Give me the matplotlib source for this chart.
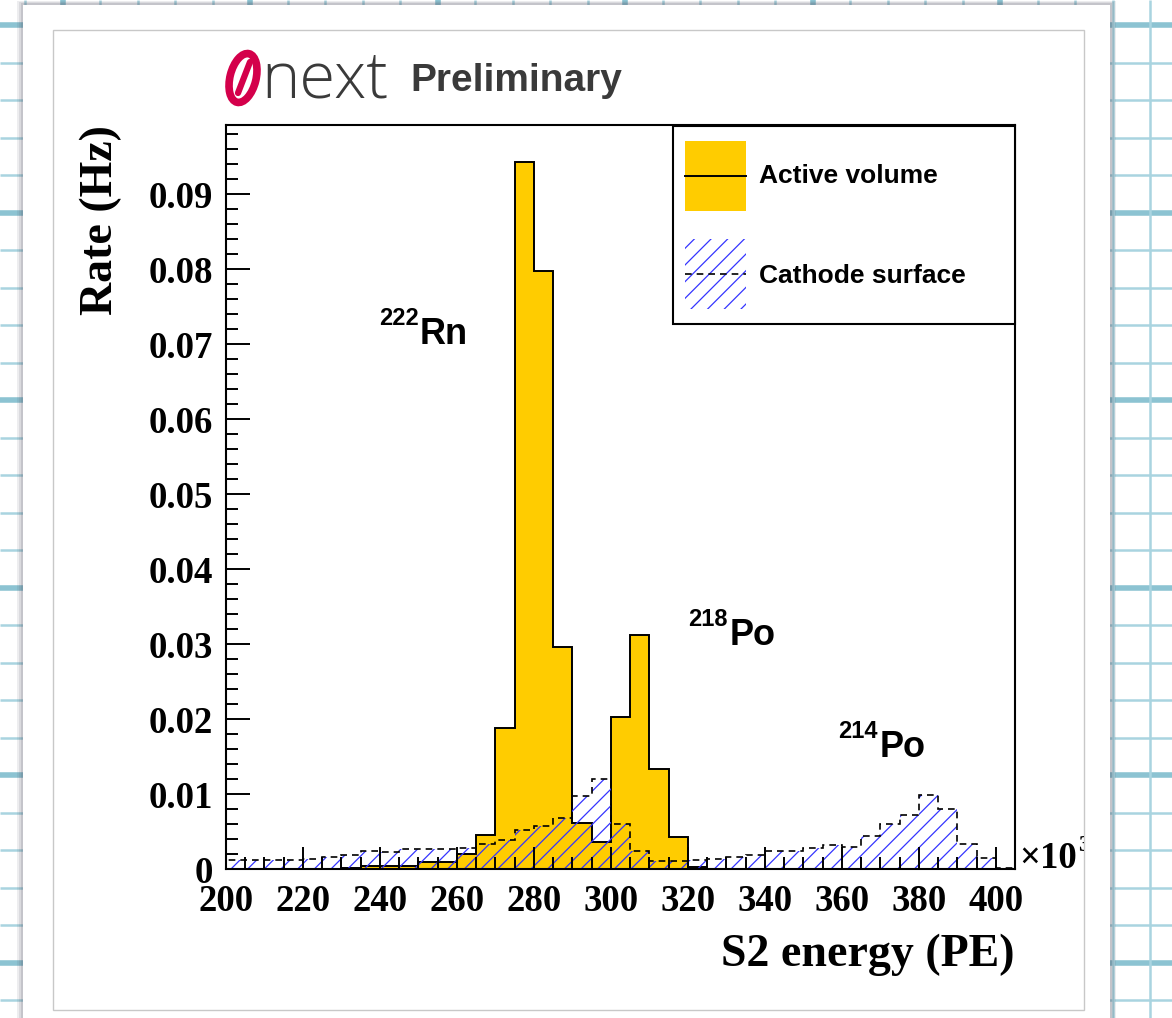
import numpy as np
import matplotlib
matplotlib.use('Agg')
import matplotlib.pyplot as plt
from matplotlib.patches import Rectangle, Ellipse
from matplotlib.ticker import FixedLocator, MultipleLocator, FuncFormatter
from matplotlib.transforms import Bbox, TransformedBbox

plt.rcParams['hatch.linewidth'] = 0.9
plt.rcParams['font.family'] = ['Liberation Serif', 'DejaVu Serif']
plt.rcParams['font.weight'] = 'bold'

# ---------------- data (S2 energy in units of 10^3 PE) ----------------
bin_edges = np.arange(200, 406, 5)
active_volume = [0.0001, 0.0001, 0.0001, 0.0001, 0.0001, 0.0001, 0.0002, 0.0004,
                 0.0004, 0.0005, 0.0010, 0.0010, 0.0021, 0.0046, 0.0188, 0.0943,
                 0.0797, 0.0296, 0.0062, 0.0037, 0.0203, 0.0312, 0.0134, 0.0043,
                 0.0003, 0.0, 0.0, 0.0, 0.0, 0.0, 0.0, 0.0,
                 0.0, 0.0, 0.0, 0.0, 0.0, 0.0, 0.0, 0.0, 0.0]
cathode_surface = [0.0013, 0.0013, 0.0013, 0.0013, 0.0014, 0.0016, 0.0019, 0.0024,
                   0.0023, 0.0027, 0.0027, 0.0027, 0.0029, 0.0034, 0.0039, 0.0052,
                   0.0058, 0.0069, 0.0098, 0.0121, 0.0060, 0.0025, 0.0011, 0.0011,
                   0.0012, 0.0014, 0.0016, 0.0019, 0.0024, 0.0025, 0.0028, 0.0033,
                   0.0030, 0.0045, 0.0061, 0.0073, 0.0099, 0.0081, 0.0034, 0.0015,
                   0.0002]
series_labels = ['Active volume', 'Cathode surface']
peak_mass = ['222', '218', '214']
peak_elem = ['Rn', 'Po', 'Po']
x_ticks = [200, 220, 240, 260, 280, 300, 320, 340, 360, 380, 400]
y_ticks = [0, 0.01, 0.02, 0.03, 0.04, 0.05, 0.06, 0.07, 0.08, 0.09]

# ---------------- figure ----------------
W, H = 1172, 1018
fig = plt.figure(figsize=(W / 100, H / 100), dpi=100)
fig.patch.set_facecolor('white')


def fx(px):
    return px / W


def fy(py):
    return 1 - py / H


# background "grid paper" and page
bg = fig.add_axes([0, 0, 1, 1], zorder=-10)
bg.set_xlim(0, W)
bg.set_ylim(H, 0)
bg.axis('off')
thin_c, thick_c = '#a9d4e0', '#8cc3d2'
for k in range(-2, 30):
    y = 25 + 37.5 * k
    if -5 <= y <= H + 5:
        major = (k % 5 == 0)
        bg.plot([0, W], [y, y], color=thick_c if major else thin_c,
                lw=4.0 if major else 1.8, solid_capstyle='butt', zorder=1)
for k in range(-2, 32):
    x = 62.5 + 37.5 * k
    if -5 <= x <= W + 5:
        major = (k % 5 == 0)
        bg.plot([x, x], [0, H], color=thick_c if major else thin_c,
                lw=4.0 if major else 1.8, solid_capstyle='butt', zorder=1)
# page shadow + page
for i, a in enumerate([0.10, 0.12, 0.16]):
    d = 6 - 2 * i
    bg.add_patch(Rectangle((23 - d, 4 - d / 2), 1087 + 2 * d, 1040, facecolor='#556',
                           alpha=a, edgecolor='none', zorder=2))
bg.add_patch(Rectangle((23, 5), 1087, 1040, facecolor='white', edgecolor='none', zorder=3))
bg.add_patch(Rectangle((53, 30), 1031, 980, facecolor='white', edgecolor='#c8c8c8',
                       lw=1.0, zorder=4))
# NEXT logo
red = '#d4004b'
bg.add_patch(Ellipse((243, 78), 26, 50, angle=14, facecolor='none', edgecolor=red,
                     lw=5.5, zorder=5))
bg.plot([238, 250], [93, 62], color=red, lw=4.5, solid_capstyle='round', zorder=5)
fig.text(fx(261), fy(98), 'next', family=['Open Sans', 'DejaVu Sans'], weight='light',
         size=47, color='#3a3a3a', ha='left', va='baseline')
fig.text(fx(410), fy(91), 'Preliminary', family=['Liberation Sans', 'DejaVu Sans'],
         weight='bold', size=28, color='#3a3a3a', ha='left', va='baseline')

# ---------------- main axes ----------------
ax = fig.add_axes([fx(226), fy(869.3), (1015 - 226) / W, (869.3 - 125) / H])
ax.set_facecolor('white')

yellow = '#ffcc00'
blue = '#3535ff'
dash = (0, (4, 3))
ax.stairs(active_volume, bin_edges, fill=True, facecolor=yellow, edgecolor='none', zorder=1)
ax.stairs(active_volume, bin_edges, color='black', lw=1.4, zorder=1.1)
ax.stairs(cathode_surface, bin_edges, fill=True, facecolor='none', edgecolor=blue,
          lw=0, hatch='//', zorder=1.2)
ax.stairs(cathode_surface, bin_edges, color='black', lw=1.2, linestyle=dash, zorder=1.3)

ax.set_xlim(200, 405)
ax.set_ylim(0, 0.0992)
ax.xaxis.set_major_locator(FixedLocator(x_ticks))
ax.xaxis.set_minor_locator(MultipleLocator(5))
ax.yaxis.set_major_locator(FixedLocator(y_ticks))
ax.yaxis.set_minor_locator(MultipleLocator(0.002))
ax.yaxis.set_major_formatter(FuncFormatter(lambda v, _: '0' if abs(v) < 1e-9 else f'{v:.2f}'))
ax.xaxis.set_major_formatter(FuncFormatter(lambda v, _: f'{v:.0f}'))
ax.tick_params(axis='both', which='both', direction='in', top=False, right=False,
               width=1.4, labelsize=26.5)
ax.tick_params(axis='y', which='major', length=17, pad=9)
ax.tick_params(axis='x', which='major', length=16, pad=10.5)
ax.tick_params(axis='both', which='minor', length=8.5)
for s in ax.spines.values():
    s.set_linewidth(1.5)

# ---------------- legend (ROOT-style fixed box) ----------------
ov = fig.add_axes([0, 0, 1, 1], zorder=5)
ov.set_xlim(0, W)
ov.set_ylim(H, 0)
ov.axis('off')
ov.patch.set_alpha(0)
ov.add_patch(Rectangle((672.7, 125.7), 1015 - 672.7, 324 - 125.7, facecolor='white',
                       edgecolor='black', lw=1.5, zorder=1))
ov.add_patch(Rectangle((685, 140.7), 61, 70, facecolor=yellow, edgecolor='none', zorder=2))
ov.plot([685, 746], [176, 176], color='black', lw=1.4, zorder=3)
ov.add_patch(Rectangle((685, 238.5), 61, 70.5, facecolor='none', edgecolor=blue, lw=0,
                       hatch='//', zorder=2))
ov.plot([685, 746], [274, 274], color='black', lw=1.2, linestyle=dash, zorder=3)
for lab, yc in zip(series_labels, [176, 276]):
    fig.text(fx(759), fy(yc), lab, family=['Liberation Sans', 'DejaVu Sans'], weight='bold',
             size=19, ha='left', va='center', zorder=10)

# peak labels
sans = ['Liberation Sans', 'DejaVu Sans']
peak_pos = [(379, 420, 344), (688, 730, 645), (838, 880, 757)]
for (sx, mx, by), m, e in zip(peak_pos, peak_mass, peak_elem):
    fig.text(fx(sx), fy(by - 19), m, family=sans, weight='bold', size=17, va='baseline')
    fig.text(fx(mx), fy(by), e, family=sans, weight='bold', size=26, va='baseline')

# axis titles
fig.text(fx(101), fy(125), 'Rate (Hz)', rotation=90, ha='center', va='top', size=33)
fig.text(fx(1015), fy(966), 'S2 energy (PE)', ha='right', va='baseline', size=33)
fig.text(fx(1019), fy(868), '×10', ha='left', va='baseline', size=26.5)
t3 = fig.text(fx(1078), fy(851), '3', ha='left', va='baseline', size=17)
t3.set_clip_box(TransformedBbox(Bbox([[0, 0], [1084 / W, 1]]), fig.transFigure))
t3.set_clip_on(True)

fig.savefig('out.png', dpi=100, facecolor='white')
